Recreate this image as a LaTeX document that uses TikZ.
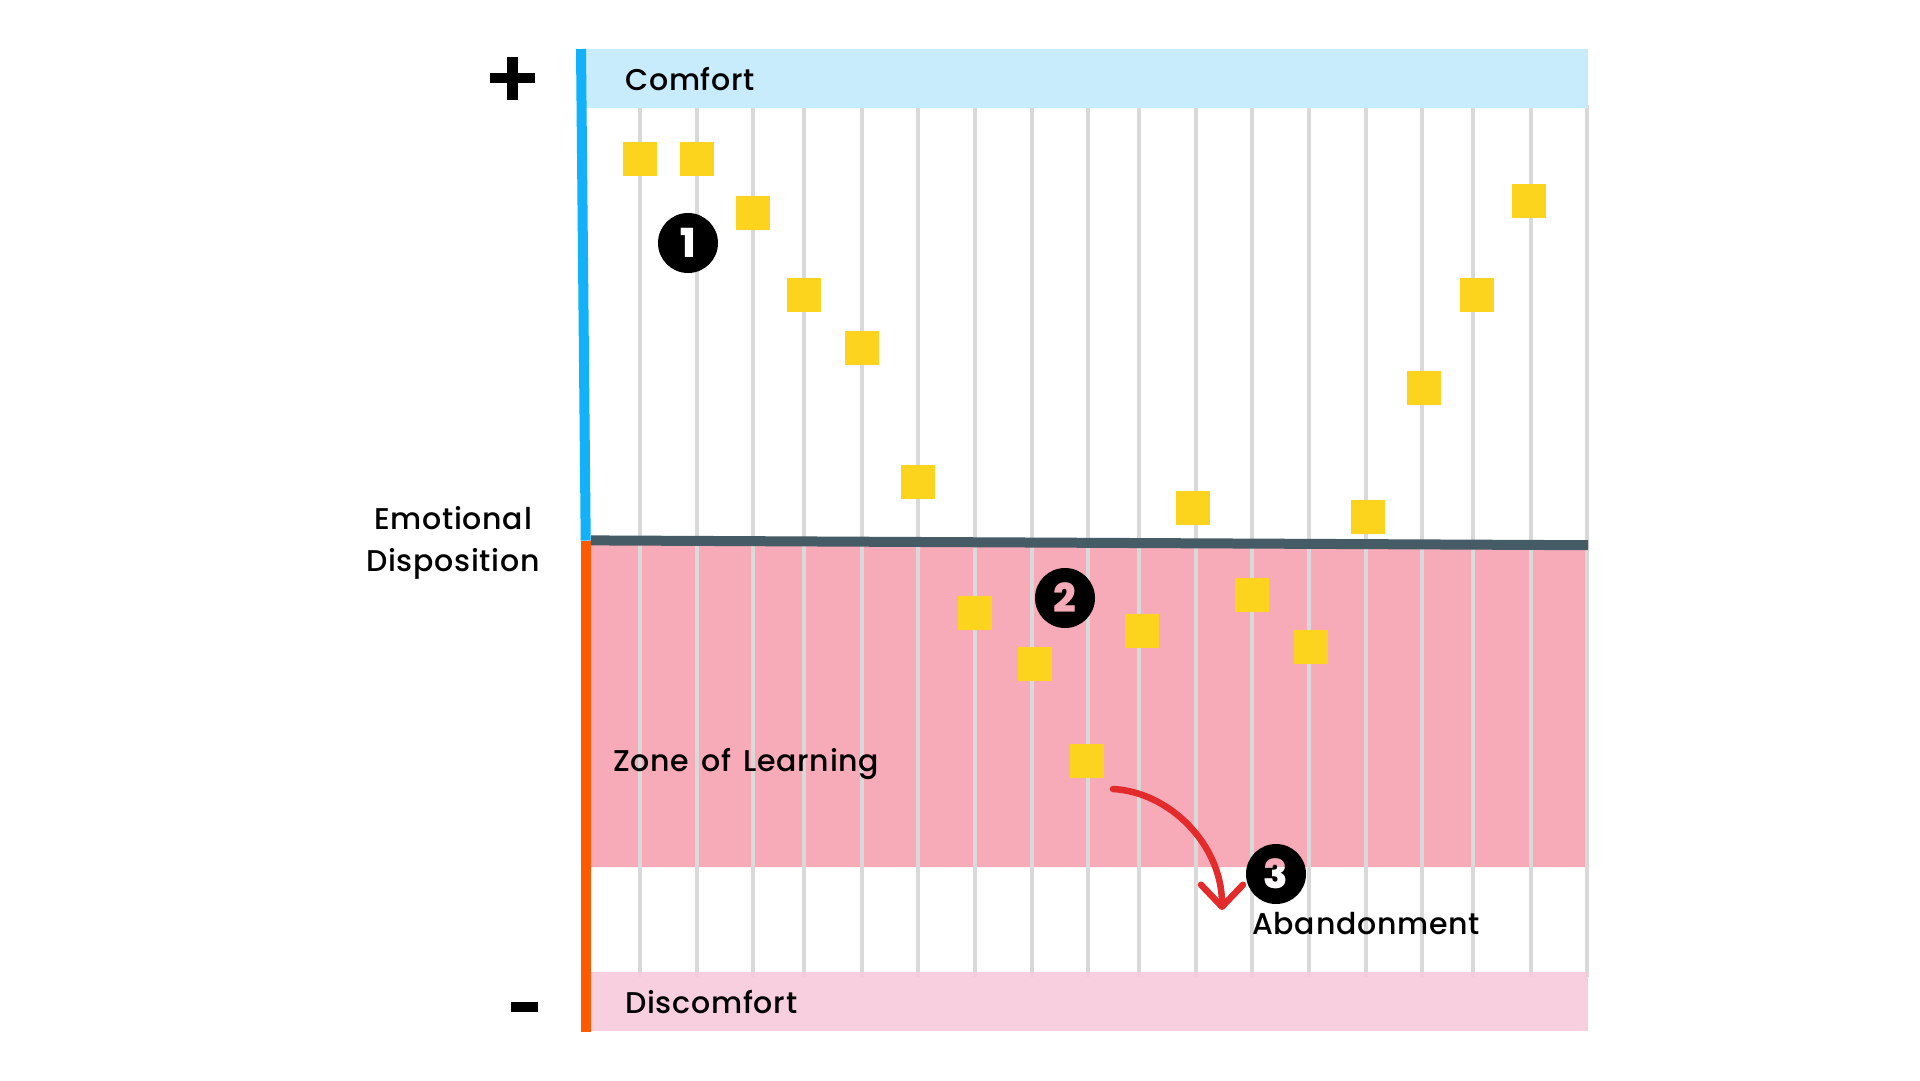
\documentclass[tikz,border=0pt]{standalone}
\usepackage{fontspec}
\setmainfont{Poppins}[UprightFont=* Medium, BoldFont=* ExtraBold, LetterSpace=2.5]
\usetikzlibrary{arrows.meta}
\definecolor{comfortblue}{HTML}{C9ECFD}
\definecolor{axisblue}{HTML}{12B1FA}
\definecolor{axisorange}{HTML}{FF5A00}
\definecolor{slateline}{HTML}{455B65}
\definecolor{zonepink}{HTML}{F7AAB7}
\definecolor{discpink}{HTML}{F7CADB}
\definecolor{sqyellow}{HTML}{FDD41D}
\definecolor{gridgray}{HTML}{D9D9D9}
\definecolor{arrowred}{HTML}{E32B2B}
\tikzset{
  lbl/.style={inner sep=0pt, font=\fontsize{30}{36}\selectfont, text=black},
  sq/.style={fill=sqyellow, draw=none, minimum size=34pt, inner sep=0pt},
  badge/.style={circle, fill=black, draw=none, minimum size=60pt, inner sep=0pt,
    font=\fontsize{40}{40}\selectfont\bfseries},
  badgenum/.style={inner sep=0pt, font=\fontsize{40}{40}\selectfont\bfseries},
  gridline/.style={draw=gridgray, line width=3.6pt},
  redarrow/.style={draw=arrowred, line width=6.5pt, line cap=round, line join=round,
    -{Straight Barb[length=22pt,width=42pt,line cap=round,line join=round]}},
}
\begin{document}
\begin{tikzpicture}[x=1pt,y=-1pt]
\useasboundingbox[fill=white] (0,0) rectangle (1920,1080);
% zone of learning
\fill[zonepink] (588,540) -- (1587,545) -- (1587,867) -- (588,867) -- cycle;
% grid lines
\foreach \gx in {640,697,753,804,862,918,975,1032,1088,1139,1196,1252,1309,1366,1422,1473,1531,1587}
  \draw[gridline] (\gx,105) -- (\gx,977);
% bands
\fill[comfortblue] (584,49) rectangle (1588,107.7);
\fill[discpink, fill opacity=0.9] (586,972) rectangle (1588,1031);
% axis bars
\draw[axisblue, line width=10pt] (581,49) -- (585.7,540.5);
\draw[axisorange, line width=10pt] (586,540.5) -- (586,1032);
% dividing line
\draw[slateline, line width=10pt] (591,540.4) -- (1588,545.2);
% plus and minus
\fill[black] (490,72.7) rectangle (535,83.3);
\fill[black] (507,56.7) rectangle (518,100);
\fill[black] (511,1002) rectangle (537.7,1012);
% labels
\node[lbl, anchor=base west] (comfort) at (625,90) {Comfort};
\node[lbl, anchor=base west] (discomfort) at (625,1013) {Discomfort};
\node[lbl, anchor=base west] (zone) at (613,771.5) {\spaceskip=12pt\relax Zone of Learning};
\node[lbl, anchor=base west] (aband) at (1252,934) {Abandonment};
\node[lbl, anchor=base] (emo1) at (453,529) {Emotional};
\node[lbl, anchor=base] (emo2) at (453,571.7) {Disposition};
% squares
\node[sq] (s1) at (640,158.7) {};
\node[sq] (s2) at (697,158.7) {};
\node[sq] (s3) at (753,213) {};
\node[sq] (s4) at (804,295) {};
\node[sq] (s5) at (862,348) {};
\node[sq] (s6) at (918,482) {};
\node[sq] (s7) at (975,613) {};
\node[sq] (s8) at (1035,664) {};
\node[sq] (s9) at (1087,761) {};
\node[sq] (s10) at (1142,631) {};
\node[sq] (s11) at (1193,508) {};
\node[sq] (s12) at (1252,595) {};
\node[sq] (s13) at (1311,647) {};
\node[sq] (s14) at (1368,517) {};
\node[sq] (s15) at (1424,388) {};
\node[sq] (s16) at (1477,295) {};
\node[sq] (s17) at (1529,201) {};
% badges
\node[badge, text=white] (b1) at (688,243) {1};
\node[badge, text=zonepink] (b2) at (1065,598) {2};
\node[badge, text=zonepink] (b3) at (1276,874) {3};
\begin{scope}
  \clip (1230,867) rectangle (1320,910);
  \node[badgenum, text=white] (b3w) at (b3.center) {3};
\end{scope}
% arrow
\coordinate (arrS) at (1113,789);
\coordinate (arrE) at (1222,910);
\draw[redarrow] (arrS) .. controls (1170,792) and (1222,845) .. (arrE);
\end{tikzpicture}
\end{document}
